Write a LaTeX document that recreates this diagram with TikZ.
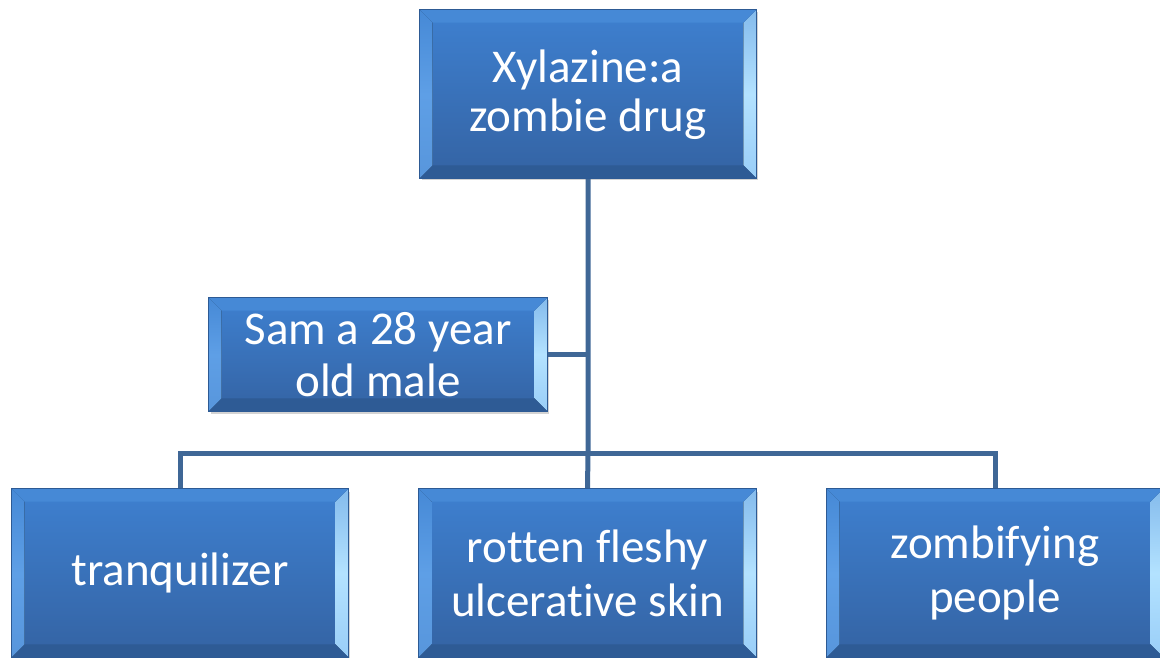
\documentclass[tikz,border=0pt]{standalone}
\usepackage{fontspec}
\setmainfont{Carlito}[Ligatures=NoCommon]
\usetikzlibrary{shadows}
\definecolor{topc}{HTML}{3E80D0}
\definecolor{botc}{HTML}{3463A3}
\definecolor{lbev}{HTML}{5E9FE6}
\definecolor{rbev}{HTML}{B3E2FF}
\definecolor{tbev}{HTML}{4689D6}
\definecolor{bbev}{HTML}{2D5A94}
\definecolor{linec}{HTML}{3F6796}
\tikzset{
  blockbox/.style={rectangle, inner sep=0pt, top color=topc, bottom color=botc,
    draw=bbev, line width=0.6pt, text=white, align=center,
    font=\fontsize{47}{53}\selectfont,
    drop shadow={opacity=0.35, shadow xshift=2pt, shadow yshift=-2.5pt}},
  conn/.style={draw=linec, line width=5pt},
}
\newcommand{\mybevels}[1]{%
  \fill[top color=tbev, bottom color=lbev!85!botc, middle color=lbev]
    (#1.south west) -- (#1.north west) -- ([shift={(13pt,-13pt)}]#1.north west) -- ([shift={(13pt,13pt)}]#1.south west) -- cycle;
  \fill[top color=rbev!60!topc, bottom color=rbev!70!lbev, middle color=rbev]
    (#1.south east) -- (#1.north east) -- ([shift={(-13pt,-13pt)}]#1.north east) -- ([shift={(-13pt,13pt)}]#1.south east) -- cycle;
  \fill[tbev]
    (#1.north west) -- (#1.north east) -- ([shift={(-13pt,-13pt)}]#1.north east) -- ([shift={(13pt,-13pt)}]#1.north west) -- cycle;
  \fill[bbev!90!botc]
    (#1.south west) -- (#1.south east) -- ([shift={(-13pt,13pt)}]#1.south east) -- ([shift={(13pt,13pt)}]#1.south west) -- cycle;
  \draw[bbev, line width=0.6pt] (#1.south west) rectangle (#1.north east);
}
\begin{document}
\begin{tikzpicture}[x=1pt,y=1pt]
\useasboundingbox (0,0) rectangle (1160,657);
\begin{scope}
\clip (0,0) rectangle (1160,657);
\coordinate (hub) at (588,204);
\node[blockbox, minimum width=336pt, minimum height=168pt] (A) at (588,563) {};
\node[blockbox, minimum width=338pt, minimum height=113pt] (B) at (378,302.5) {};
\node[blockbox, minimum width=336pt, minimum height=168pt] (C) at (180,84) {};
\node[blockbox, minimum width=337pt, minimum height=168pt] (D) at (587.5,84) {};
\node[blockbox, minimum width=336pt, minimum height=168pt] (E) at (995,84) {};
\draw[conn] (A.south) -- (hub) -- (D.north);
\draw[conn] (C.north) |- (hub) -| (E.north);
\draw[conn] (B.east) -- (B.east -| hub);
\mybevels{A}
\mybevels{B}
\mybevels{C}
\mybevels{D}
\mybevels{E}
\node[text=white, align=center, font=\fontsize{47}{49}\selectfont] (tA) at ([yshift=-1pt]A.center) {Xylazine:a\\zombie drug};
\node[text=white, align=center, font=\fontsize{47}{52}\selectfont] (tB) at (B.center) {Sam a 28 year\\old male};
\node[text=white, align=center, font=\fontsize{47}{54}\selectfont] (tC) at (C.center) {tranquilizer};
\node[text=white, align=center, font=\fontsize{47}{54}\selectfont] (tD) at (D.center) {rotten fleshy\\ulcerative skin};
\node[text=white, align=center, font=\fontsize{47}{54}\selectfont] (tE) at (E.center) {zombifying\\people};
\end{scope}
\end{tikzpicture}
\end{document}
